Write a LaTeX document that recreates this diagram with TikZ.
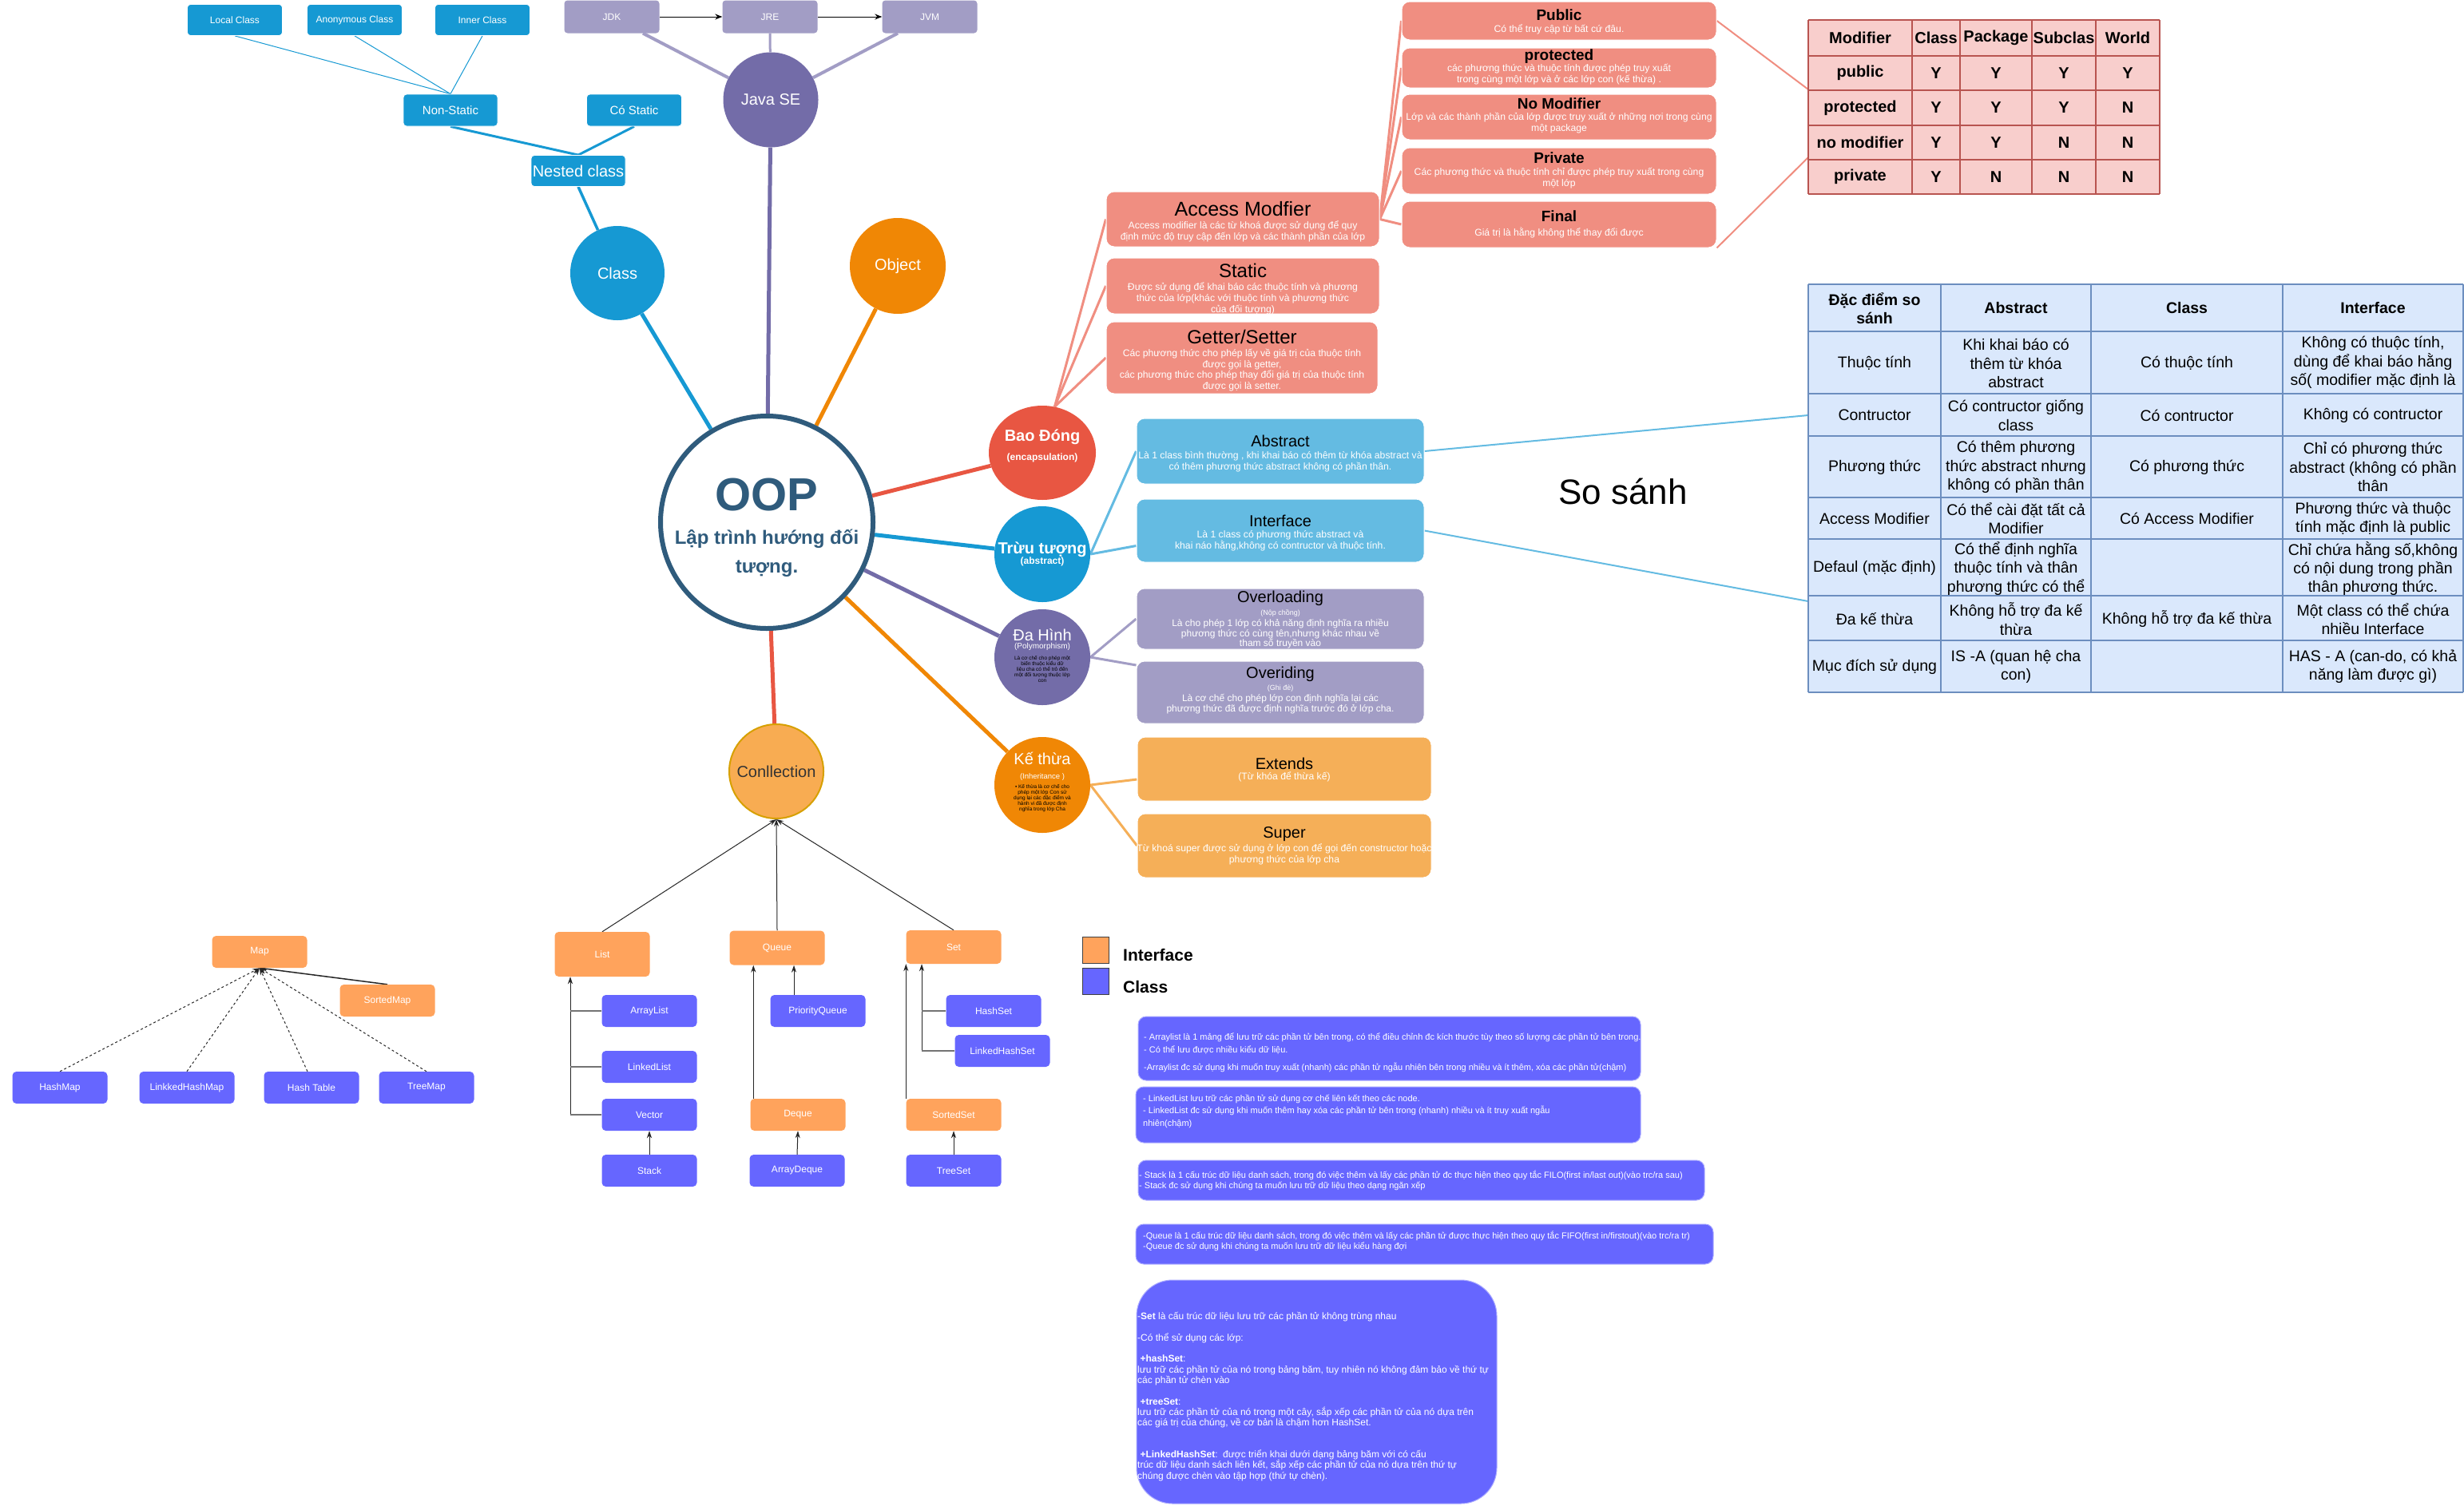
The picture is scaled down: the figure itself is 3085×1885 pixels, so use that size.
\documentclass[tikz,border=0pt]{standalone}
\usepackage{fontspec}
\setmainfont{Liberation Sans}
\usetikzlibrary{arrows.meta,calc,shapes.geometric}
\newcommand\fsz[2]{\fontsize{#1}{#2}\selectfont}
\definecolor{cblue}{RGB}{22,153,211}
\definecolor{cpurple}{RGB}{115,108,168}
\definecolor{lpurple}{RGB}{162,157,197}
\definecolor{corange}{RGB}{240,135,5}
\definecolor{cred}{RGB}{232,86,66}
\definecolor{oopblue}{RGB}{47,91,124}
\definecolor{salmon}{RGB}{240,142,129}
\definecolor{lblue}{RGB}{100,187,226}
\definecolor{lorange}{RGB}{245,175,88}
\definecolor{ifor}{RGB}{255,163,92}
\definecolor{clsb}{RGB}{102,102,255}
\definecolor{connf}{RGB}{248,172,82}
\definecolor{connd}{RGB}{215,160,0}
\definecolor{modf}{RGB}{248,206,204}
\definecolor{modd}{RGB}{184,84,80}
\definecolor{cmpf}{RGB}{218,232,252}
\definecolor{cmpd}{RGB}{108,142,191}
\pgfdeclarelayer{bg}
\pgfsetlayers{bg,main}
\begin{document}
\begin{tikzpicture}[x=1pt,y=-1pt,
  wh/.style 2 args={minimum width=#1pt, minimum height=#2pt},
  tlbox/.style={rectangle, rounded corners=4pt, fill=cblue, draw=white, line width=0.8pt, text=white, inner sep=0pt, font=\fsz{12}{14}},
  jbox/.style={rectangle, rounded corners=4pt, fill=lpurple, text=white, inner sep=0pt, font=\fsz{12}{14}, minimum width=119pt, minimum height=41pt},
  bub/.style={circle, inner sep=0pt, minimum size=120pt, text=white, font=\fsz{20}{24}},
  abox/.style={rectangle, rounded corners=10pt, inner sep=0pt, draw=white, line width=1pt},
  ttl/.style={inner sep=0pt, font=\fsz{20}{24}},
  dsc/.style={inner sep=0pt, align=center, text=white, font=\fsz{12.2}{14}},
  wt/.style={inner sep=0pt, text=white, align=center},
  ibox/.style={rectangle, rounded corners=5pt, fill=ifor, text=white, inner sep=0pt, font=\fsz{12}{14}, minimum width=119pt, minimum height=40pt},
  cbox/.style={ibox, fill=clsb},
  tbox/.style={rectangle, rounded corners=10pt, fill=clsb, draw=clsb!55!white, line width=1pt, inner sep=0pt},
  btxt/.style={inner sep=0pt, align=left, text=white, anchor=west, font=\fsz{11}{15.5}},
  cmpt/.style={inner sep=0pt, align=center, font=\fsz{19.5}{23.3}},
  modt/.style={inner sep=0pt, font=\fsz{20}{24}\bfseries},
  spoke/.style={line width=5pt},
  carrow/.style={draw=black!85, line width=1pt, -{Stealth[length=9pt,width=6pt]}}
]
\begin{pgfonlayer}{bg}
\fill[white] (0,0) rectangle (3085,1885);
\end{pgfonlayer}
\useasboundingbox (0,0) rectangle (3085,1885);

% ---------- top left: nested classes ----------
\node[tlbox, wh={119}{39}] (local) at (294,25) {Local Class};
\node[tlbox, wh={119}{39}] (anon) at (444,25) {Anonymous Class};
\node[tlbox, wh={119}{39}] (inner) at (604,25) {Inner Class};
\node[tlbox, wh={118}{40}, font=\fsz{15}{18}] (nonstatic) at (564,138) {Non-Static};
\node[tlbox, wh={119}{40}, font=\fsz{15}{18}] (costatic) at (794,138) {Có Static};
\node[tlbox, wh={118}{39}, font=\fsz{20}{24}] (nested) at (724,214) {Nested class};

% ---------- Java SE ----------
\node[jbox] (jdk) at (766,21) {JDK};
\node[jbox] (jre) at (964,21) {JRE};
\node[jbox] (jvm) at (1164,21) {JVM};
\node[bub, fill=cpurple, minimum size=119pt] (javase) at (965,125) {Java SE};

% ---------- main circles ----------
\node[bub, fill=cblue, minimum size=118pt] (class) at (773,342) {Class};
\node[bub, fill=corange, minimum size=120pt] (object) at (1124,333) {Object};
\node[circle, draw=oopblue, line width=6pt, fill=white, minimum size=266pt, inner sep=0pt] (oop) at (960,654) {};
\node[inner sep=0pt, text=oopblue, font=\fsz{58}{60}\bfseries] (ooptitle) at (960,620) {OOP};
\node[inner sep=0pt, text=oopblue, font=\fsz{24}{36}\bfseries, align=center] (oopsub) at (960,693) {Lập trình hướng đối\\tượng.};

\node[ellipse, fill=cred, inner sep=0pt, minimum width=134pt, minimum height=118pt] (bao) at (1305,567) {};
\node[wt, font=\fsz{20}{24}\bfseries] (baot) at (1305,547) {Bao Đóng};
\node[wt, font=\fsz{12}{14}\bfseries] (baos) at (1305,573) {(encapsulation)};

\node[bub, fill=cblue] (tru) at (1305,694) {};
\node[wt, font=\fsz{20}{24}\bfseries] (trut) at (1305,688) {Trừu tượng};
\node[wt, font=\fsz{12}{14}\bfseries] (trus) at (1305,703) {(abstract)};

\node[bub, fill=cpurple] (da) at (1305,823) {};
\node[wt, font=\fsz{20}{24}] (dat) at (1305,795) {Đa Hình};
\node[wt, font=\fsz{10}{12}] (das) at (1305,810) {(Polymorphism)};
\node[inner sep=0pt, align=center, font=\fsz{6.5}{7}] (dad) at (1305,838) {Là cơ chế cho phép một\\biến thuộc kiểu dữ\\liệu cha có thể trỏ đến\\một đối tượng thuộc lớp\\con};

\node[bub, fill=corange] (ke) at (1305,983) {};
\node[wt, font=\fsz{20}{24}] (ket) at (1305,950) {Kế thừa};
\node[wt, font=\fsz{9.5}{11}] (kes) at (1305,973) {(Inheritance )};
\node[inner sep=0pt, align=center, font=\fsz{6.5}{7}] (ked) at (1305,1000) {• Kế thừa là cơ chế cho\\phép một lớp Con sử\\dụng lại các đặc điểm và\\hành vi đã được định\\nghĩa trong lớp Cha};

\node[circle, fill=connf, draw=connd, line width=2pt, minimum size=118pt, inner sep=0pt, text=black!80, font=\fsz{20}{24}] (conn) at (972,966) {Conllection};

% ---------- access modifier boxes ----------
\node[abox, fill=salmon, wh={342}{69}] (am) at (1556,274.5) {};
\node[ttl, font=\fsz{25}{30}] (amt) at (1556,262) {Access Modfier};
\node[dsc] (amd) at (1556,290) {Access modifier là các từ khoá được sử dụng để quy\\định mức độ truy cập đến lớp và các thành phần của lớp};

\node[abox, fill=salmon, wh={342}{70}] (static) at (1556,358) {};
\node[ttl, font=\fsz{24}{28}] (statict) at (1556,339) {Static};
\node[dsc] (staticd) at (1556,374) {Được sử dụng để khai báo các thuộc tính và phương\\thức của lớp(khác với thuộc tính và phương thức\\của đối tượng)};

\node[abox, fill=salmon, wh={340}{90}] (getter) at (1555,448) {};
\node[ttl, font=\fsz{24}{28}] (gettert) at (1555,422) {Getter/Setter};
\node[dsc, font=\fsz{12.2}{13.7}] (getterd) at (1555,463.5) {Các phương thức cho phép lấy về giá trị của thuộc tính\\được gọi là getter,\\các phương thức cho phép thay đổi giá trị của thuộc tính\\được gọi là setter.};

\node[abox, fill=salmon, wh={394}{48}] (public) at (1952,26) {};
\node[ttl, font=\fsz{19}{22}\bfseries] (publict) at (1952,19) {Public};
\node[dsc] (publicd) at (1952,37) {Có thể truy cập từ bất cứ đâu.};

\node[abox, fill=salmon, wh={394}{50}] (protected) at (1952,85) {};
\node[ttl, font=\fsz{19}{22}\bfseries] (protectedt) at (1952,71) {protected};
\node[dsc] (protectedd) at (1952,93) {các phương thức và thuộc tính được phép truy xuất\\trong cùng một lớp và ở các lớp con (kế thừa) .};

\node[abox, fill=salmon, wh={394}{57}] (nomod) at (1952,146.5) {};
\node[ttl, font=\fsz{19}{22}\bfseries] (nomodt) at (1952,130) {No Modifier};
\node[dsc] (nomodd) at (1952,154) {Lớp và các thành phần của lớp được truy xuất ở những nơi trong cùng\\một package};

\node[abox, fill=salmon, wh={394}{58}] (private) at (1952,214) {};
\node[ttl, font=\fsz{19}{22}\bfseries] (privatet) at (1952,198) {Private};
\node[dsc] (privated) at (1952,223.5) {Các phương thức và thuộc tính chỉ được phép truy xuất trong cùng\\một lớp};

\node[abox, fill=salmon, wh={394}{58}] (final) at (1952,281) {};
\node[ttl, font=\fsz{19}{22}\bfseries] (finalt) at (1952,271) {Final};
\node[dsc] (finald) at (1952,291) {Giá trị là hằng không thể thay đổi được};

% ---------- modifier table ----------
\fill[modf] (2264,25) rectangle (2704,243);
\foreach \x in {2264,2394,2454,2544,2624,2704} \draw[modd, line width=1.2pt] (\x,25) -- (\x,243);
\foreach \y in {25,70,113,157,200,243} \draw[modd, line width=1.2pt] (2264,\y) -- (2704,\y);
\foreach \r/\y/\a/\b/\c/\d/\e in {0/47.5/Modifier/Class/Package/Subclas/World, 1/91.5/public/Y/Y/Y/Y, 2/135/protected/Y/Y/Y/N, 3/178.5/no modifier/Y/Y/N/N, 4/221.5/private/Y/N/N/N}{
  \node[modt] (m-\r-0) at (2329,\y) {\a};
  \node[modt] (m-\r-1) at (2424,\y) {\b};
  \node[modt] (m-\r-2) at (2499,\y) {\c};
  \node[modt] (m-\r-3) at (2584,\y) {\d};
  \node[modt] (m-\r-4) at (2664,\y) {\e};
}
\coordinate (modin1) at (2264,112);
\coordinate (modin2) at (2264,197);

% ---------- abstraction / polymorphism / inheritance boxes ----------
\node[abox, fill=lblue, wh={360}{82}] (abstract) at (1603,565) {};
\node[ttl] (abstractt) at (1603,552) {Abstract};
\node[dsc] (abstractd) at (1603,578) {Là 1 class bình thường , khi khai báo có thêm từ khóa abstract và\\có thêm phương thức abstract không có phần thân.};

\node[abox, fill=lblue, wh={360}{79}] (interface) at (1603,664.5) {};
\node[ttl] (interfacet) at (1603,652) {Interface};
\node[dsc] (interfaced) at (1603,677.5) {Là 1 class có phương thức abstract và\\khai náo hằng,không có contructor và thuộc tính.};

\node[abox, fill=lpurple, wh={360}{76}] (overload) at (1603,775) {};
\node[ttl] (overloadt) at (1603,749) {Overloading};
\node[wt, font=\fsz{9}{11}] (overloads) at (1603,768) {(Nộp chồng)};
\node[dsc, font=\fsz{12}{12.5}] (overloadd) at (1603,794) {Là cho phép 1 lớp có khả năng định nghĩa ra nhiều\\phương thức có cùng tên,nhưng khác nhau về\\tham số truyền vào};

\node[abox, fill=lpurple, wh={360}{78}] (override) at (1603,867) {};
\node[ttl] (overridet) at (1603,844) {Overiding};
\node[wt, font=\fsz{9}{11}] (overrides) at (1603,862) {(Ghi đè)};
\node[dsc, font=\fsz{12}{13}] (overrided) at (1603,881.5) {Là cơ chế cho phép lớp con định nghĩa lại các\\phương thức đã được định nghĩa trước đó ở lớp cha.};

\node[abox, fill=lorange, wh={368}{80}] (extends) at (1608,963) {};
\node[ttl] (extendst) at (1608,956) {Extends};
\node[dsc] (extendsd) at (1608,973) {(Từ khóa để thừa kế)};

\node[abox, fill=lorange, wh={368}{80}] (super) at (1608,1059) {};
\node[ttl] (supert) at (1608,1045) {Super};
\node[dsc] (superd) at (1608,1070) {Từ khoá super được sử dụng ở lớp con để gọi đến constructor hoặc\\phương thức của lớp cha};

% ---------- comparison table ----------
\fill[cmpf] (2264,356) rectangle (3084,867);
\foreach \x in {2264,2430,2618,2858,3084} \draw[cmpd, line width=1.5pt] (\x,356) -- (\x,867);
\foreach \y in {356,415,493,546,623,675,746,802,867} \draw[cmpd, line width=1.5pt] (2264,\y) -- (3084,\y);
\coordinate (cmpin1) at (2264,520);
\coordinate (cmpin2) at (2264,753);
\node[cmpt, font=\fsz{19.5}{23.3}\bfseries] (c-0-0) at (2347,386) {Đặc điểm so\\sánh};
\node[cmpt, font=\fsz{19.5}{23.3}\bfseries] (c-0-1) at (2524,386) {Abstract};
\node[cmpt, font=\fsz{19.5}{23.3}\bfseries] (c-0-2) at (2738,386) {Class};
\node[cmpt, font=\fsz{19.5}{23.3}\bfseries] (c-0-3) at (2971,386) {Interface};
\node[cmpt] (c-1-0) at (2347,455) {Thuộc tính};
\node[cmpt] (c-1-1) at (2524,455) {Khi khai báo có\\thêm từ khóa\\abstract};
\node[cmpt] (c-1-2) at (2738,455) {Có thuộc tính};
\node[cmpt] (c-1-3) at (2971,454) {Không có thuộc tính,\\dùng để khai báo hằng\\số( modifier mặc định là};
\node[cmpt] (c-2-0) at (2347,520) {Contructor};
\node[cmpt] (c-2-1) at (2524,520) {Có contructor giống\\class};
\node[cmpt] (c-2-2) at (2738,520) {Có contructor};
\node[cmpt] (c-2-3) at (2971,520) {Không có contructor};
\node[cmpt] (c-3-0) at (2347,585) {Phương thức};
\node[cmpt] (c-3-1) at (2524,585) {Có thêm phương\\thức abstract nhưng\\không có phần thân};
\node[cmpt] (c-3-2) at (2738,585) {Có phương thức};
\node[cmpt] (c-3-3) at (2971,585) {Chỉ có phương thức\\abstract (không có phần\\thân};
\node[cmpt] (c-4-0) at (2347,649.5) {Access Modifier};
\node[cmpt] (c-4-1) at (2524,649.5) {Có thể cài đặt tất cả\\Modifier};
\node[cmpt] (c-4-2) at (2738,649.5) {Có Access Modifier};
\node[cmpt] (c-4-3) at (2971,649.5) {Phương thức và thuộc\\tính mặc định là public};
\node[cmpt] (c-5-0) at (2347,711) {Defaul (mặc định)};
\node[cmpt] (c-5-1) at (2524,712) {Có thể định nghĩa\\thuộc tính và thân\\phương thức có thể};
\node[cmpt] (c-5-3) at (2971,712) {Chỉ chứa hằng số,không\\có nội dung trong phần\\thân phương thức.};
\node[cmpt] (c-6-0) at (2347,775) {Đa kế thừa};
\node[cmpt] (c-6-1) at (2524,775) {Không hỗ trợ đa kế\\thừa};
\node[cmpt] (c-6-2) at (2738,775) {Không hỗ trợ đa kế thừa};
\node[cmpt] (c-6-3) at (2971,775) {Một class có thể chứa\\nhiều Interface};
\node[cmpt] (c-7-0) at (2347,835) {Mục đích sử dụng};
\node[cmpt] (c-7-1) at (2524,835) {IS -A (quan hệ cha\\con)};
\node[cmpt] (c-7-3) at (2971,835) {HAS - A (can-do, có khả\\năng làm được gì)};

\node[inner sep=0pt, font=\fsz{44}{50}] (sosanh) at (2032,616) {So sánh};

% ---------- legend ----------
\node[rectangle, fill=ifor, draw=black!75, line width=1.2pt, minimum size=33pt, inner sep=0pt] (legi) at (1372,1190) {};
\node[rectangle, fill=clsb, draw=black!75, line width=1.2pt, minimum size=33pt, inner sep=0pt] (legc) at (1372,1229) {};
\node[inner sep=0pt, anchor=west, font=\fsz{21}{24}\bfseries] (legit) at (1406,1196) {Interface};
\node[inner sep=0pt, anchor=west, font=\fsz{21}{24}\bfseries] (legct) at (1406,1236) {Class};

% ---------- collections ----------
\node[ibox] (map) at (325,1192) {Map};
\node[ibox] (sortedmap) at (485,1253) {SortedMap};
\node[cbox] (hashmap) at (75,1362) {HashMap};
\node[cbox] (lhm) at (234,1362) {LinkkedHashMap};
\node[cbox] (hashtable) at (390,1362) {Hash Table};
\node[cbox] (treemap) at (534,1362) {TreeMap};

\node[ibox, minimum height=56pt] (list) at (754,1195) {List};
\node[ibox, minimum height=43pt] (queue) at (973,1187) {Queue};
\node[ibox, minimum height=42pt] (set) at (1194,1186) {Set};
\node[cbox] (arraylist) at (813,1266) {ArrayList};
\node[cbox] (linkedlist) at (813,1336) {LinkedList};
\node[cbox] (vector) at (813,1396) {Vector};
\node[cbox] (stack) at (813,1466) {Stack};
\node[cbox] (pq) at (1024,1266) {PriorityQueue};
\node[ibox] (deque) at (999,1396) {Deque};
\node[cbox] (arraydeque) at (998,1466) {ArrayDeque};
\node[cbox] (hashset) at (1244,1266) {HashSet};
\node[cbox] (lhs) at (1255,1316) {LinkedHashSet};
\node[ibox] (sortedset) at (1194,1396) {SortedSet};
\node[cbox] (treeset) at (1194,1466) {TreeSet};

% ---------- text boxes ----------
\node[tbox, wh={629}{80}] (box1) at (1739.5,1313) {};
\node[btxt, font=\fsz{11}{16}] (box1t) at (1432,1318) {- Arraylist là 1 mảng để lưu trữ các phần tử bên trong, có thể điều chỉnh đc kích thước tùy theo số lượng các phần tử bên trong.\\- Có thể lưu được nhiều kiểu dữ liệu.\\[6pt]-Arraylist đc sử dụng khi muốn truy xuất (nhanh) các phần tử ngẫu nhiên bên trong nhiều và ít thêm, xóa các phần tử(chậm)};
\node[tbox, wh={632}{70}] (box2) at (1738,1396) {};
\node[btxt] (box2t) at (1431,1391.5) {- LinkedList lưu trữ các phần tử sử dụng cơ chế liên kết theo các node.\\- LinkedList đc sử dụng khi muốn thêm hay xóa các phần tử bên trong (nhanh) nhiều và ít truy xuất ngẫu\\nhiên(chậm)};
\node[tbox, wh={709}{50}] (box3) at (1779.5,1478) {};
\node[btxt, font=\fsz{11}{13}] (box3t) at (1426,1478.5) {- Stack là 1 cấu trúc dữ liệu danh sách, trong đó việc thêm và lấy các phần tử đc thực hiện theo quy tắc FILO(first in/last out)(vào trc/ra sau)\\- Stack đc sử dụng khi chúng ta muốn lưu trữ dữ liệu theo dạng ngăn xếp};
\node[tbox, wh={723}{50}] (box4) at (1783.5,1558) {};
\node[btxt, font=\fsz{11}{13}] (box4t) at (1431,1554.5) {-Queue là 1 cấu trúc dữ liệu danh sách, trong đó việc thêm và lấy các phần tử được thực hiện theo quy tắc FIFO(first in/firstout)(vào trc/ra tr)\\-Queue đc sử dụng khi chúng ta muốn lưu trữ dữ liệu kiểu hàng đợi};
\node[tbox, rounded corners=45pt, wh={451}{280}] (box5) at (1648.5,1743) {};
\node[btxt, font=\fsz{12}{13.3}] (box5t) at (1424,1749) {-\textbf{Set} là cấu trúc dữ liệu lưu trữ các phần tử không trùng nhau\\[13.3pt]-Có thể sử dụng các lớp:\\[13.3pt]\ \textbf{+hashSet}:\\lưu trữ các phần tử của nó trong bảng băm, tuy nhiên nó không đảm bảo về thứ tự\\các phần tử chèn vào\\[13.3pt]\ \textbf{+treeSet}:\\lưu trữ các phần tử của nó trong một cây, sắp xếp các phần tử của nó dựa trên\\các giá trị của chúng, về cơ bản là chậm hơn HashSet.\\[26.6pt]\ \textbf{+LinkedHashSet}:\ \ được triển khai dưới dạng bảng băm với có cấu\\trúc dữ liệu danh sách liên kết, sắp xếp các phần tử của nó dựa trên thứ tự\\chúng được chèn vào tập hợp (thứ tự chèn).};

% ---------- connectors ----------
\begin{pgfonlayer}{bg}
% OOP spokes
\draw[spoke, cblue] (oop) -- (class);
\draw[spoke, cpurple] (oop) -- (javase);
\draw[spoke, corange] (oop) -- (object);
\draw[spoke, cred] (oop) -- (bao);
\draw[spoke, cblue] (oop) -- (tru);
\draw[spoke, cpurple] (oop) -- (da);
\draw[spoke, corange] (oop) -- (ke);
\draw[spoke, cred] (oop) -- (conn);
% nested classes
\draw[cblue, line width=1pt] (local.south) -- (nonstatic.north);
\draw[cblue, line width=1pt] (anon.south) -- (nonstatic.north);
\draw[cblue, line width=1pt] (inner.south) -- (nonstatic.north);
\draw[cblue, line width=3pt] (nonstatic.south) -- (nested.north);
\draw[cblue, line width=3pt] (costatic.south) -- (nested.north);
\draw[cblue, line width=3.5pt] (nested.south) -- (class);
% java se
\draw[lpurple, line width=4pt] ([xshift=39pt]jdk.south) -- (javase);
\draw[lpurple, line width=3pt] (jre.south) -- (javase);
\draw[lpurple, line width=4pt] ([xshift=-40pt]jvm.south) -- (javase);
\draw[black, line width=1pt, -{Stealth[length=9pt,width=7pt]}] (jdk) -- (jre);
\draw[black, line width=1pt, -{Stealth[length=9pt,width=7pt]}] (jre) -- (jvm);
% encapsulation
\draw[salmon, line width=3pt] (bao.75) -- (am.west);
\draw[salmon, line width=3pt] (bao.75) -- (static.west);
\draw[salmon, line width=3pt] (bao.75) -- (getter.west);
\draw[salmon, line width=3pt] (am.east) -- (public.west);
\draw[salmon, line width=3pt] (am.east) -- (protected.west);
\draw[salmon, line width=3pt] (am.east) -- (nomod.west);
\draw[salmon, line width=3pt] (am.east) -- (private.west);
\draw[salmon, line width=3pt] (am.east) -- (final.west);
\draw[salmon, line width=2pt] (public.east) -- (modin1);
\draw[salmon, line width=2pt] (final.south east) -- (modin2);
% abstraction
\draw[lblue, line width=3pt] (tru.east) -- (abstract.west);
\draw[lblue, line width=3pt] (tru.east) -- ([yshift=-19pt]interface.west);
\draw[lblue, line width=2pt] (abstract.east) -- (cmpin1);
\draw[lblue, line width=2pt] (interface.east) -- (cmpin2);
% polymorphism
\draw[lpurple, line width=3pt] (da.east) -- (overload.west);
\draw[lpurple, line width=3pt] (da.east) -- ([yshift=34pt]override.west);
% inheritance
\draw[lorange, line width=3pt] (ke.east) -- ([yshift=-13pt]extends.west);
\draw[lorange, line width=3pt] (ke.east) -- (super.west);
% collection
\draw[carrow] (list.north) -- (conn.south);
\draw[carrow] (queue.north) -- (conn.south);
\draw[carrow] (set.north) -- (conn.south);
\draw[carrow, dashed] (hashmap.north) -- (map.south);
\draw[carrow, dashed] (lhm.north) -- (map.south);
\draw[carrow, dashed] ([xshift=-5pt]hashtable.north) -- (map.south);
\draw[carrow, dashed] (treemap.north) -- (map.south);
\draw[carrow, line width=1.5pt] (sortedmap.north) -- (map.south);
\coordinate (lbus) at (714,1396);
\draw[carrow] (lbus) -- (lbus |- list.south);
\draw[black!55, line width=2.5pt] (lbus |- arraylist.west) -- (arraylist.west);
\draw[black!55, line width=2.5pt] (lbus |- linkedlist.west) -- (linkedlist.west);
\draw[black!55, line width=2.5pt] (lbus) -- (vector.west);
\draw[carrow] (stack.north) -- (vector.south);
\coordinate (qbus) at ([xshift=4pt]deque.north west);
\draw[carrow] (qbus) -- (qbus |- queue.south);
\coordinate (pqtop) at ([xshift=-30pt]pq.north);
\draw[carrow] (pqtop) -- (pqtop |- queue.south);
\draw[carrow] (arraydeque.north) -- (deque.south);
\coordinate (sbusa) at (sortedset.north west);
\draw[carrow, line width=0.7pt] (sbusa) -- (sbusa |- set.south);
\coordinate (sbusb) at (1154,1316);
\draw[carrow] (sbusb) -- (sbusb |- set.south);
\draw[black!55, line width=2.5pt] (sbusb |- hashset.west) -- (hashset.west);
\draw[black!55, line width=2.5pt] (sbusb) -- (lhs.west);
\draw[carrow] (treeset.north) -- (sortedset.south);
\end{pgfonlayer}
\end{tikzpicture}
\end{document}
